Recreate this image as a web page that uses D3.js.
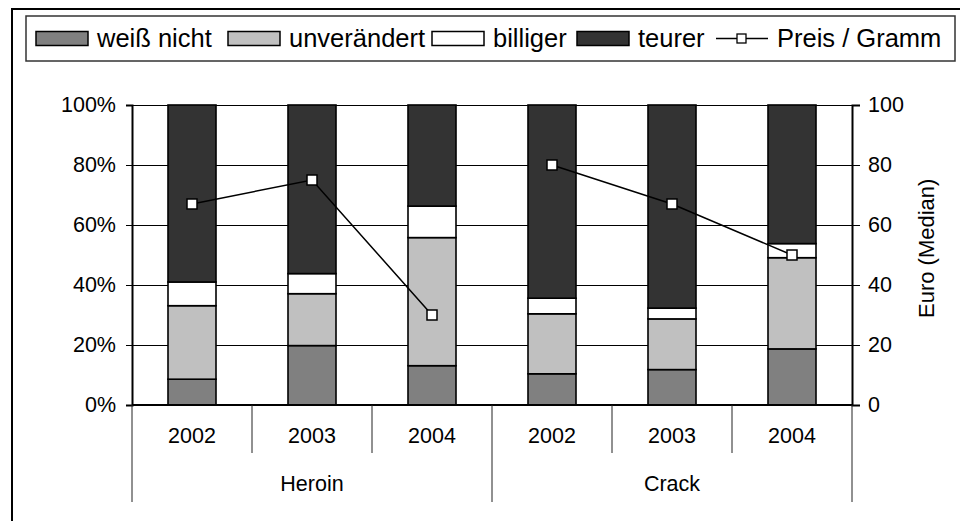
<!DOCTYPE html>
<html>
<head>
<meta charset="utf-8">
<script src="https://cdn.jsdelivr.net/npm/d3@7"></script>
<style>
  html, body { margin: 0; padding: 0; background: #fff; }
  svg { display: block; font-family: "Liberation Sans", Arial, sans-serif; }
</style>
</head>
<body>
<svg id="chart" width="960" height="521"></svg>
<script>
// ---- data ----
const years = ["2002", "2003", "2004", "2002", "2003", "2004"];
const groups = ["Heroin", "Crack"];
const weissNicht = [8.6, 19.8, 13.1, 10.4, 11.8, 18.7];
const unveraendert = [24.5, 17.3, 42.7, 20.0, 16.9, 30.4];
const billiger = [7.9, 6.7, 10.5, 5.2, 3.6, 4.7];
const teurer = [59.0, 56.2, 33.7, 64.4, 67.7, 46.2];
const preis = [67, 75, 30, 80, 67, 50];
const seriesNames = ["weiß nicht", "unverändert", "billiger", "teurer"];
const lineName = "Preis / Gramm";
const leftTicks = [0, 20, 40, 60, 80, 100];
const rightTicks = [0, 20, 40, 60, 80, 100];
const rightTitle = "Euro (Median)";

// ---- layout ----
const colors = ["#808080", "#c0c0c0", "#ffffff", "#333333"];
const svg = d3.select("#chart");
const plot = { left: 132, right: 852, top: 105, bottom: 405 };
const FS = 21.5;

// outer frame
svg.append("rect").attr("x", 12).attr("y", 9).attr("width", 990).attr("height", 540)
  .attr("fill", "none").attr("stroke", "#000").attr("stroke-width", 2);

const idx = d3.range(years.length);
const x = d3.scaleBand().domain(idx).range([plot.left, plot.right]).paddingInner(0.6).paddingOuter(0.3);
const y = d3.scaleLinear().domain([0, 100]).range([plot.bottom, plot.top]);
const yR = d3.scaleLinear().domain([0, 100]).range([plot.bottom, plot.top]);

// gridlines
svg.append("g").attr("transform", `translate(${plot.left},0)`)
  .call(d3.axisLeft(y).tickValues(leftTicks).tickSize(-(plot.right - plot.left)).tickFormat(""))
  .call(g => g.select(".domain").remove())
  .call(g => g.selectAll("line").attr("stroke", "#000").attr("stroke-width", 1));

// stacked bars
const rows = idx.map(i => ({ i, "weiß nicht": weissNicht[i], "unverändert": unveraendert[i], "billiger": billiger[i], "teurer": teurer[i] }));
const stacked = d3.stack().keys(seriesNames)(rows);
svg.append("g").selectAll("g").data(stacked).join("g")
  .attr("fill", (d, k) => colors[k])
  .selectAll("rect").data(d => d).join("rect")
  .attr("x", d => x(d.data.i))
  .attr("width", x.bandwidth())
  .attr("y", d => y(d[1]))
  .attr("height", d => y(d[0]) - y(d[1]))
  .attr("stroke", "#000").attr("stroke-width", 1.6);

// left axis
svg.append("g").attr("transform", `translate(${plot.left},0)`)
  .call(d3.axisLeft(y).tickValues(leftTicks).tickSize(6).tickPadding(10).tickFormat(d => d + "%"))
  .call(g => g.select(".domain").attr("stroke", "#000").attr("stroke-width", 2))
  .call(g => g.selectAll("line").attr("stroke", "#000"))
  .call(g => g.selectAll("text").attr("font-size", FS).attr("fill", "#000").attr("font-family", "Liberation Sans, Arial, sans-serif"));

// right axis
svg.append("g").attr("transform", `translate(${plot.right},0)`)
  .call(d3.axisRight(yR).tickValues(rightTicks).tickSize(8).tickPadding(8))
  .call(g => g.select(".domain").attr("stroke", "#000").attr("stroke-width", 2))
  .call(g => g.selectAll("line").attr("stroke", "#000"))
  .call(g => g.selectAll("text").attr("font-size", FS).attr("fill", "#000").attr("font-family", "Liberation Sans, Arial, sans-serif"));

// bottom axis line
svg.append("line").attr("x1", plot.left).attr("x2", plot.right).attr("y1", plot.bottom).attr("y2", plot.bottom)
  .attr("stroke", "#000").attr("stroke-width", 2);

// category separators
const step = x.step();
idx.forEach(i => {
  const xl = plot.left + i * step;
  const isGroupEdge = i % 3 === 0;
  svg.append("line").attr("x1", xl).attr("x2", xl).attr("y1", plot.bottom).attr("y2", isGroupEdge ? 502 : 453)
    .attr("stroke", "#222").attr("stroke-width", 1);
});
svg.append("line").attr("x1", plot.right).attr("x2", plot.right).attr("y1", plot.bottom).attr("y2", 502)
  .attr("stroke", "#222").attr("stroke-width", 1);

// year labels
svg.append("g").selectAll("text").data(idx).join("text")
  .attr("x", i => x(i) + x.bandwidth() / 2).attr("y", 443)
  .attr("text-anchor", "middle").attr("font-size", FS).text(i => years[i]);

// group labels
svg.append("g").selectAll("text").data(groups).join("text")
  .attr("x", (d, g) => plot.left + (g * 3 + 1.5) * step).attr("y", 491)
  .attr("text-anchor", "middle").attr("font-size", FS).text(d => d);

// price line
const line = d3.line().x(i => x(i) + x.bandwidth() / 2).y(i => yR(preis[i]));
const segs = [[0, 1, 2], [3, 4, 5]];
svg.append("g").selectAll("path").data(segs).join("path")
  .attr("d", line).attr("fill", "none").attr("stroke", "#000").attr("stroke-width", 1.5);
svg.append("g").selectAll("rect").data(idx).join("rect")
  .attr("x", i => x(i) + x.bandwidth() / 2 - 5).attr("y", i => yR(preis[i]) - 5)
  .attr("width", 10).attr("height", 10)
  .attr("fill", "#fff").attr("stroke", "#000").attr("stroke-width", 1.5);

// right axis title
svg.append("text").attr("transform", "translate(934,318) rotate(-90)")
  .attr("font-size", 22).attr("text-anchor", "start").text(rightTitle);

// legend
svg.append("rect").attr("x", 26).attr("y", 16).attr("width", 929).attr("height", 45)
  .attr("fill", "#fff").attr("stroke", "#333").attr("stroke-width", 1.5);
const swX = [36, 228, 432, 577];
const legend = svg.append("g");
seriesNames.forEach((name, k) => {
  legend.append("rect").attr("x", swX[k]).attr("y", 31.5).attr("width", 52).attr("height", 14)
    .attr("fill", colors[k]).attr("stroke", "#000").attr("stroke-width", 1.5);
  legend.append("text").attr("x", swX[k] + 61).attr("y", 47).attr("font-size", 25.5).text(name);
});
legend.append("line").attr("x1", 716).attr("x2", 768).attr("y1", 38.5).attr("y2", 38.5)
  .attr("stroke", "#000").attr("stroke-width", 1.5);
legend.append("rect").attr("x", 737).attr("y", 34).attr("width", 9).attr("height", 9)
  .attr("fill", "#fff").attr("stroke", "#000").attr("stroke-width", 1.3);
legend.append("text").attr("x", 777).attr("y", 47).attr("font-size", 25.5).text(lineName);
</script>
</body>
</html>
